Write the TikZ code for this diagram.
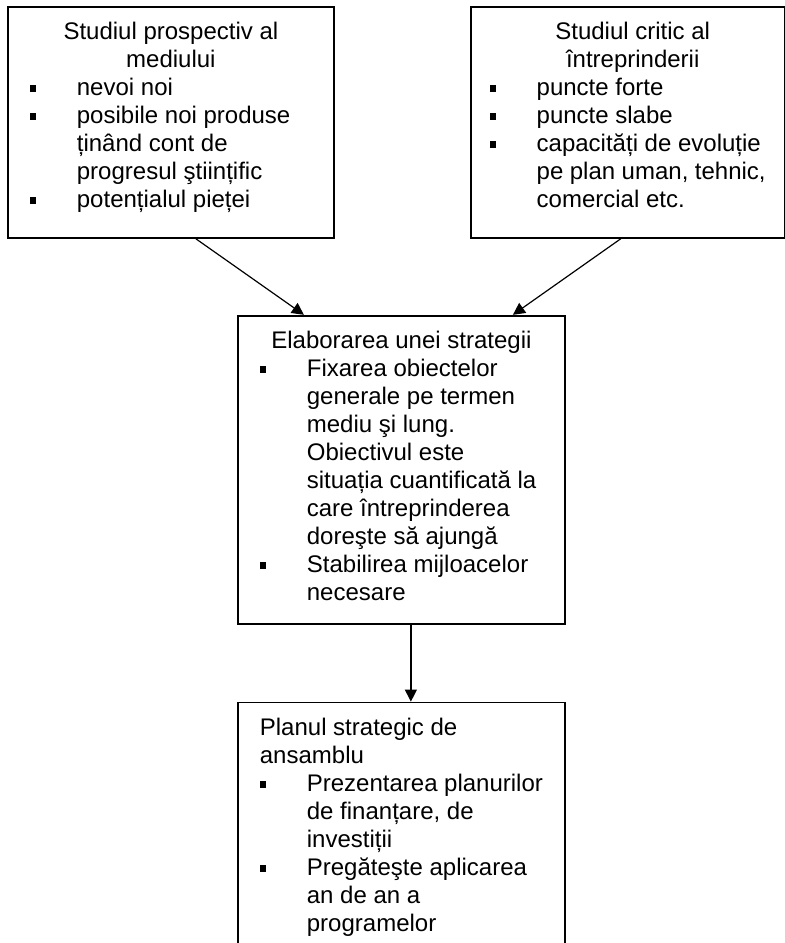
\documentclass[tikz,border=0pt]{standalone}
\usepackage{fontspec}
\setmainfont{Liberation Sans}
\usepackage{tikz}
\usetikzlibrary{arrows.meta,positioning}

% bullet line with hanging indent
\newcommand{\itm}{\par\noindent\hangindent=23.5pt\hangafter=1%
  \makebox[23.5pt][l]{\rule[1.8pt]{3.2pt}{3.2pt}}}
\newcommand{\continut}[3]{\parbox[c][#2][t]{#1}{#3}}

\begin{document}
\begin{tikzpicture}[
    bloc/.style={draw, line width=0.9pt, inner xsep=11pt, inner ysep=7.6pt,
      anchor=north west, font=\fontsize{12pt}{14pt}\selectfont},
    fleche/.style={line width=0.6pt, -{Triangle[length=6pt,width=6pt]}}]
    \useasboundingbox (0,0) rectangle (392.5pt,-471.5pt);
    \clip (0,0) rectangle (392.5pt,-471.5pt);
    \node[bloc] (mediu) at (3.5pt,-3pt)
      {\continut{141pt}{100.3pt}{\centering Studiul prospectiv al\\ mediului\par
        \raggedright
        \itm nevoi noi
        \itm posibile noi produse\newline ținând cont de\newline progresul ştiințific
        \itm potențialul pieței}};
    \node[bloc, inner xsep=9.5pt] (intr) [right=67.5pt of mediu.north east, anchor=north west]
      {\continut{138pt}{100.3pt}{\centering\hspace*{5pt}Studiul critic al\\ \hspace*{5pt}întreprinderii\par
        \raggedright
        \itm puncte forte
        \itm puncte slabe
        \itm capacități de evoluție\newline pe plan uman, tehnic,\newline comercial etc.}};
    \node[bloc] (strat) at ([xshift=115pt,yshift=-38pt]mediu.south west)
      {\continut{141.5pt}{138.8pt}{\centering Elaborarea unei strategii\par
        \raggedright
        \itm Fixarea obiectelor\newline generale pe termen\newline mediu şi lung.\newline
          Obiectivul este\newline situația cuantificată la\newline care întreprinderea\newline
          doreşte să ajungă
        \itm Stabilirea mijloacelor\newline necesare}};
    \node[bloc] (plan) [below=38.5pt of strat.south west, anchor=north west]
      {\continut{141.5pt}{150pt}{\raggedright Planul strategic de\newline ansamblu
        \itm Prezentarea planurilor\newline de finanțare, de\newline investiții
        \itm Pregăteşte aplicarea\newline an de an a\newline programelor}};
    % connectors
    \draw[fleche] ([xshift=12.5pt]mediu.south) -- ([xshift=-48.75pt]strat.north);
    \draw[fleche] ([xshift=-3.5pt]intr.south) -- ([xshift=55.75pt]strat.north);
    \draw[fleche] ([xshift=4.75pt]strat.south) -- ([xshift=4.75pt]plan.north);
\end{tikzpicture}
\end{document}
